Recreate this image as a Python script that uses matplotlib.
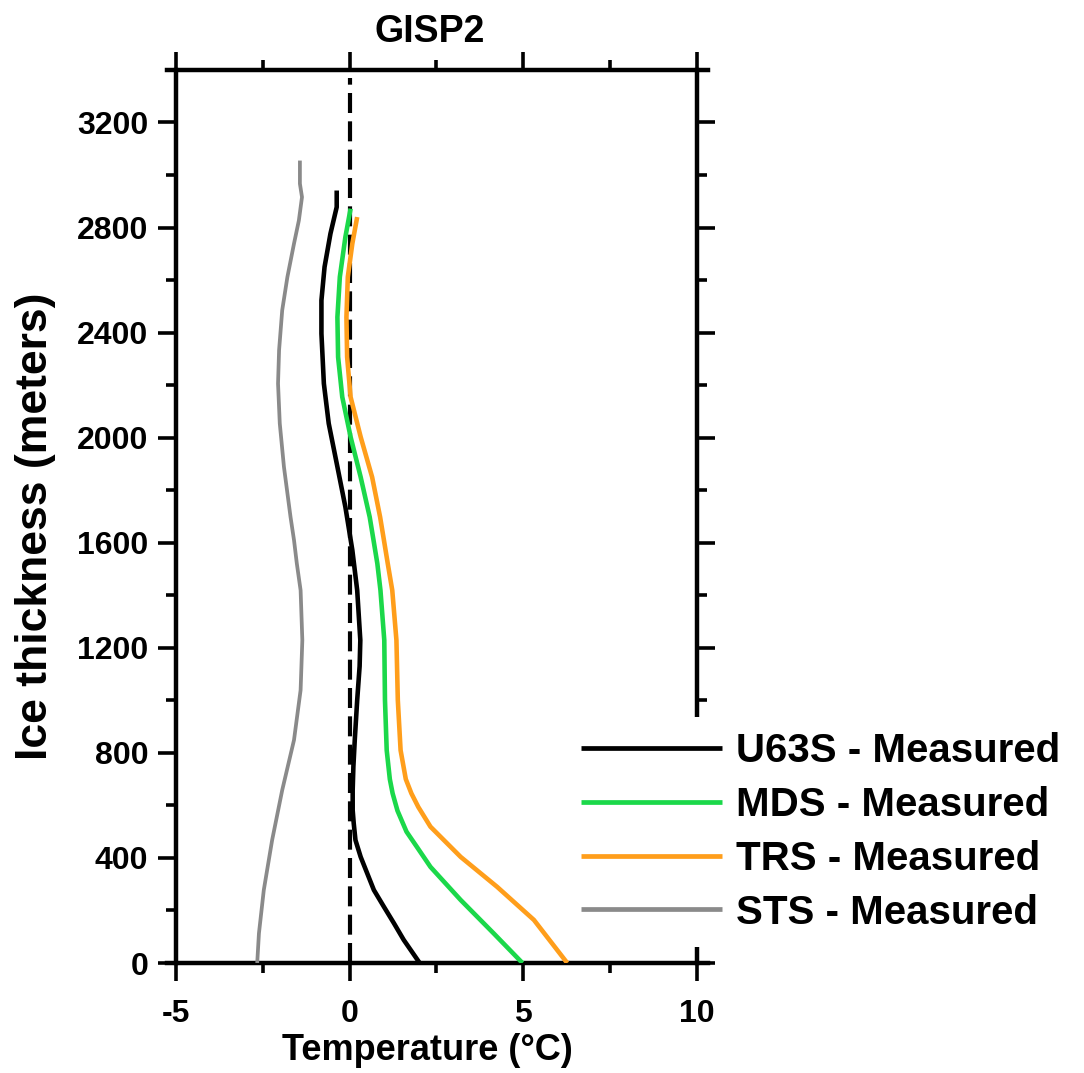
import numpy as np
import matplotlib
matplotlib.use("Agg")
import matplotlib.pyplot as plt
from matplotlib.ticker import MultipleLocator, FixedLocator

plt.rcParams['font.family'] = ['Liberation Sans', 'DejaVu Sans']
plt.rcParams['font.weight'] = 'bold'

# Temperature profiles (depth in m, temperature in degC)
u63s_depth = [0, 88, 151, 214, 278, 341, 404, 468, 532, 582, 658, 747, 849, 1001,
              1130, 1229, 1419, 1572, 1736, 1889, 2054, 2206, 2396, 2523, 2650,
              2777, 2878, 2941]
u63s_temp = [2.02, 1.56, 1.28, 0.99, 0.70, 0.51, 0.32, 0.17, 0.12, 0.09, 0.09, 0.11,
             0.15, 0.22, 0.29, 0.31, 0.22, 0.08, -0.12, -0.35, -0.60, -0.74, -0.81,
             -0.81, -0.72, -0.55, -0.37, -0.37]

mds_depth = [0, 113, 240, 366, 440, 500, 580, 646, 700, 810, 1001, 1229, 1419, 1521,
             1610, 1698, 1850, 2003, 2155, 2307, 2459, 2612, 2764, 2872]
mds_temp = [4.98, 4.15, 3.20, 2.33, 1.95, 1.64, 1.38, 1.24, 1.16, 1.07, 1.02, 1.0,
            0.89, 0.80, 0.69, 0.58, 0.32, 0.03, -0.21, -0.33, -0.35, -0.28, -0.12, 0.03]

trs_depth = [0, 164, 290, 404, 519, 594, 646, 700, 810, 1001, 1229, 1419, 1521, 1610,
             1698, 1850, 2003, 2155, 2307, 2459, 2612, 2739, 2840]
trs_temp = [6.27, 5.31, 4.25, 3.20, 2.33, 1.98, 1.78, 1.62, 1.47, 1.39, 1.35, 1.23,
            1.10, 0.99, 0.88, 0.65, 0.32, 0.03, -0.07, -0.09, -0.05, 0.08, 0.22]

sts_depth = [0, 113, 278, 468, 658, 849, 1039, 1229, 1419, 1522, 1610, 1698, 1889,
             2054, 2206, 2333, 2485, 2612, 2739, 2827, 2916, 2967, 3055]
sts_temp = [-2.66, -2.61, -2.47, -2.23, -1.94, -1.60, -1.41, -1.36, -1.41, -1.52,
            -1.60, -1.70, -1.89, -2.01, -2.06, -2.03, -1.94, -1.79, -1.60, -1.46,
            -1.37, -1.43, -1.43]

series = [
    ("U63S - Measured", u63s_temp, u63s_depth, "black", 3.3),
    ("MDS - Measured", mds_temp, mds_depth, "#1BD84A", 3.3),
    ("TRS - Measured", trs_temp, trs_depth, "#FF9E1B", 3.3),
    ("STS - Measured", sts_temp, sts_depth, "#8A8A8A", 2.7),
]

fig = plt.figure(figsize=(10.84, 10.73), dpi=100)
ax = fig.add_axes([0.154, 0.1025, 0.499, 0.8323])

# melting point reference
ax.plot([0, 0], [0, 3370], color="black", lw=3, dashes=(4.8, 2.0), zorder=1)

for label, t, d, c, lw in series:
    ax.plot(t, d, color=c, lw=lw, label=label, solid_capstyle="butt",
            solid_joinstyle="round", zorder=3)

ax.set_xlim(-5.26, 10.32)
ax.set_ylim(0, 3400)
ax.spines["left"].set_position(("data", -5))
ax.spines["right"].set_position(("data", 10))
for s in ax.spines.values():
    s.set_linewidth(3.2)

ax.xaxis.set_major_locator(FixedLocator([-5, 0, 5, 10]))
ax.xaxis.set_minor_locator(FixedLocator([-2.5, 2.5, 7.5]))
ax.yaxis.set_major_locator(MultipleLocator(400))
ax.yaxis.set_minor_locator(MultipleLocator(200))
ax.set_xticklabels(["-5", "0", "5", "10"])
ax.tick_params(which="both", direction="out", top=True, right=True, width=2.6)
ax.tick_params(which="major", length=13, labelsize=23)
ax.tick_params(which="minor", length=7.5)
ax.tick_params(axis="x", which="major", pad=13)
ax.tick_params(axis="y", which="major", pad=7)
for lab in ax.get_xticklabels() + ax.get_yticklabels():
    lab.set_fontweight("bold")

fig.text(430 / 1084, 1 - 32 / 1073, "GISP2", ha="center", va="center",
         fontsize=27, fontweight="bold")
fig.text(427 / 1084, 1 - 1050 / 1073, "Temperature (\u00b0C)", ha="center",
         va="center", fontsize=26, fontweight="bold")
fig.text(36 / 1084, 1 - 526 / 1073, "Ice thickness (meters)", ha="center",
         va="center", rotation=90, fontsize=32, fontweight="bold")

leg = ax.legend(loc="center left", bbox_to_anchor=(566 / 1084, 1 - 832 / 1073),
                bbox_transform=fig.transFigure, frameon=True, fancybox=False,
                edgecolor="none", facecolor="white", framealpha=1,
                prop={"size": 29, "weight": "bold"}, handlelength=3.5,
                handletextpad=0.33, labelspacing=0.39, borderpad=0.38,
                borderaxespad=0)
for h in leg.get_lines():
    h.set_linewidth(3.4)

fig.savefig("out.png", dpi=100, facecolor="white")
